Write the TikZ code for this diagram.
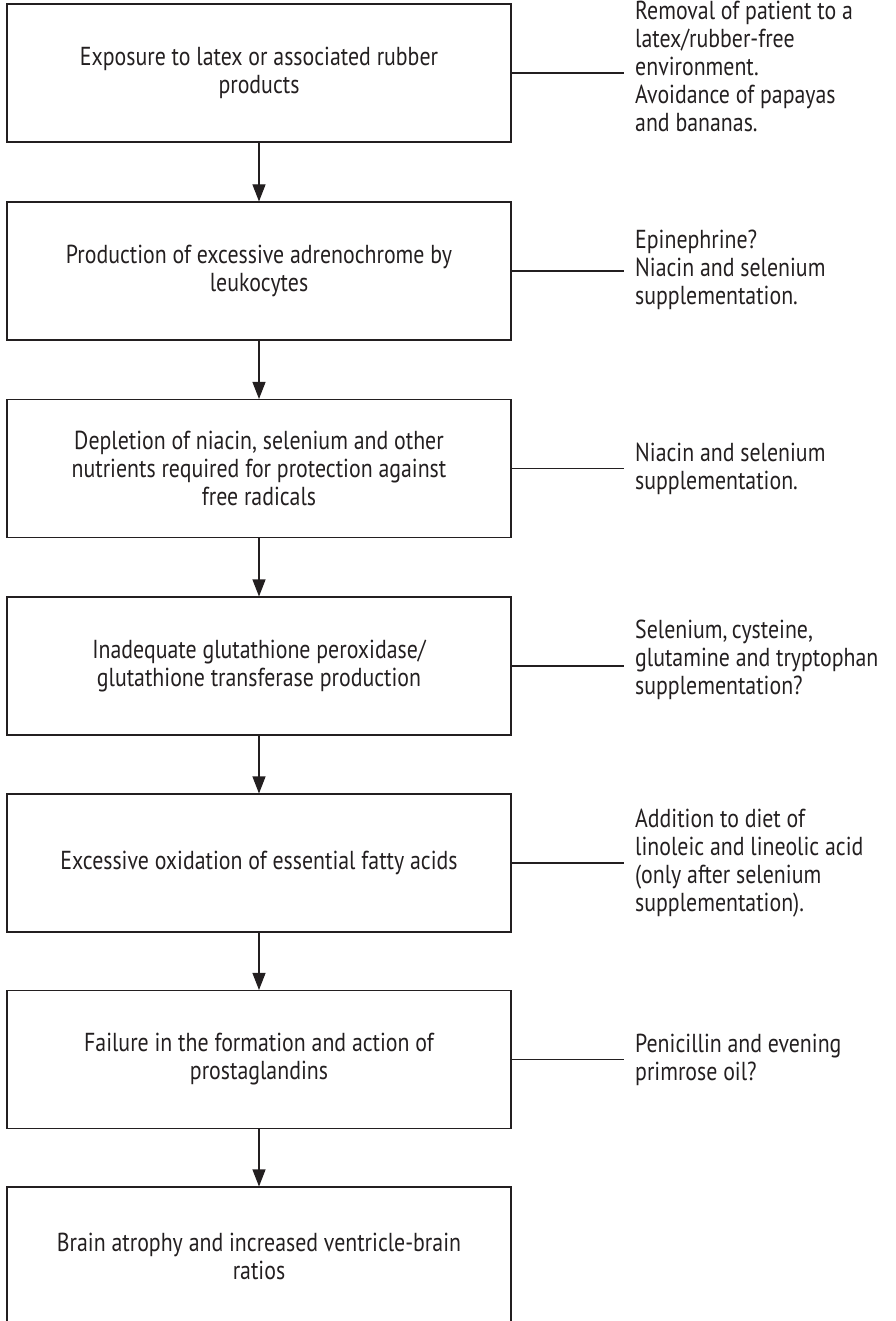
\documentclass[tikz,border=0pt]{standalone}
\usepackage{fontspec}
\setmainfont{PT Sans}[FakeStretch=0.84]
\usetikzlibrary{arrows.meta}
\definecolor{ink}{HTML}{231F20}
\begin{document}
\begin{tikzpicture}[x=1pt,y=-1pt,
  every node/.style={text=ink,font=\fontsize{26}{28}\selectfont},
  flowbox/.style={draw=ink,line width=1.1pt,minimum width=504pt,minimum height=138pt,align=center,inner sep=0pt},
  note/.style={anchor=west,align=left,inner sep=0pt},
  link/.style={draw=ink,line width=1.1pt},
  flowarrow/.style={link,-{Triangle[length=17pt,width=13pt]}}]
\useasboundingbox (0,0) rectangle (895,1321);
\node[flowbox] (b1) at (259,73) {Exposure to latex or associated rubber\\products};
\node[flowbox] (b2) at (259,271) {Production of excessive adrenochrome by\\leukocytes};
\node[flowbox] (b3) at (259,468.5) {Depletion of niacin, selenium and other\\nutrients required for protection against\\free radicals};
\node[flowbox] (b4) at (259,666) {Inadequate glutathione peroxidase/\\glutathione transferase production};
\node[flowbox] (b5) at (259,863) {Excessive oxidation of essential fatty acids};
\node[flowbox] (b6) at (259,1059.5) {Failure in the formation and action of\\prostaglandins};
\node[flowbox] (b7) at (259,1256) {Brain atrophy and increased ventricle-brain\\ratios};
\foreach \a/\b in {b1/b2,b2/b3,b3/b4,b4/b5,b5/b6,b6/b7}
  \draw[flowarrow] (\a) -- (\b);
\coordinate (c1) at (624,73);
\coordinate (c2) at (624,271);
\coordinate (c3) at (624,468.5);
\coordinate (c4) at (624,666);
\coordinate (c5) at (624,863);
\coordinate (c6) at (624,1059.5);
\foreach \i in {1,...,6}
  \draw[link] (b\i.east) -- (c\i);
\node[note] (n1) at (635,66) {Removal of patient to a\\latex/rubber-free\\environment.\\Avoidance of papayas\\and bananas.};
\node[note] (n2) at (635,270) {Epinephrine?\\Niacin and selenium\\supplementation.};
\node[note] (n3) at (635,468.5) {Niacin and selenium\\supplementation.};
\node[note] (n4) at (635,660) {Selenium,\,cysteine,\\glutamine and tryptophan\\supplementation?};
\node[note] (n5) at (635,863) {Addition to diet of\\linoleic and lineolic acid\\(only after selenium\\supplementation).};
\node[note] (n6) at (635,1059.5) {Penicillin and evening\\primrose oil?};
\end{tikzpicture}
\end{document}
